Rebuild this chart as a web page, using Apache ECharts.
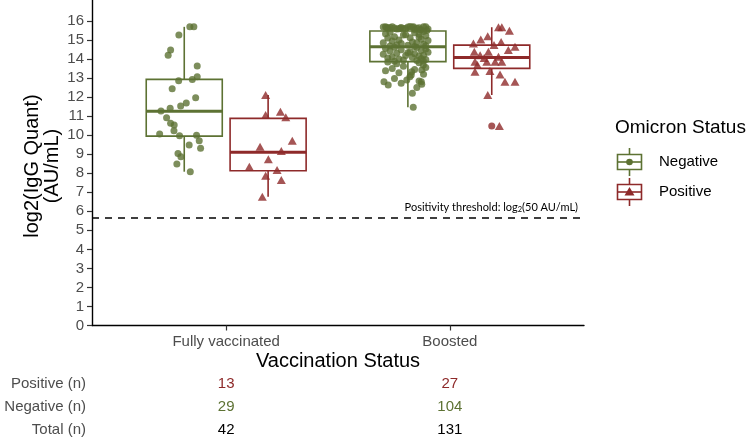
<!DOCTYPE html>
<html>
<head>
<meta charset="utf-8">
<script src="https://cdn.jsdelivr.net/npm/echarts@6/dist/echarts.min.js"></script>
<style>html,body{margin:0;padding:0;background:#fff}#c{width:750px;height:439px}</style>
</head>
<body>
<div id="c"></div>
<script>
// ---------- data ----------
const categories = ['Fully vaccinated', 'Boosted'];
const yTicks = [0,1,2,3,4,5,6,7,8,9,10,11,12,13,14,15,16];
const threshold = Math.log2(50);

// box stats [min, Q1, median, Q3, max] per category
const negBox = [[8.08, 9.95, 11.25, 12.93, 15.69], [11.46, 13.86, 14.64, 15.47, 15.71]];
const posBox = [[6.77, 8.13, 9.10, 10.88, 12.11], [12.11, 13.51, 14.08, 14.73, 15.67]];
const posOutliers = [[1, 10.48]]; // [category index, value]

// jittered points: values and horizontal jitter (category units)
const fvNegY = [15.69,15.69,15.26,14.47,14.20,13.63,13.07,12.93,12.86,12.44,11.96,11.69,11.53,11.41,11.27,10.92,10.62,10.53,10.23,10.06,9.97,10.00,9.71,9.48,9.31,9.04,8.87,8.48,8.08];
const fvNegJ = [0.025,0.043,-0.024,-0.061,-0.072,0.058,0.058,0.036,-0.025,-0.054,0.051,0.009,-0.016,-0.063,-0.104,-0.079,-0.061,-0.045,-0.046,-0.110,-0.021,0.055,0.067,0.022,0.073,-0.028,-0.015,-0.033,0.027];
const fvPosY = [12.11,11.23,11.06,10.94,9.71,9.39,9.17,8.73,8.34,8.17,7.87,7.64,6.77];
const fvPosJ = [-0.011,0.055,-0.011,0.079,0.108,-0.036,0.059,0.001,-0.084,0.040,-0.011,0.059,-0.026];
const bNegY = [
 15.68,15.62,15.70,15.58,15.66,15.60,15.71,15.55,15.64,15.69,15.57,15.70,15.63,15.60,15.67,15.52,15.70,15.65,15.59,15.68,15.61,15.66,15.54,15.69,15.62,15.50,
 15.45,15.40,15.38,15.33,15.30,15.26,15.22,15.17,15.12,15.10,15.04,15.00,14.97,14.94,14.90,14.86,14.85,14.81,14.78,14.74,14.72,14.70,14.68,14.66,15.28,15.15,
 14.62,14.60,14.55,14.52,14.48,14.45,14.42,14.38,14.35,14.30,14.28,14.25,14.20,14.18,14.15,14.10,14.08,14.05,14.02,14.00,13.97,13.95,13.92,13.90,13.88,14.33,
 13.84,13.80,13.75,13.68,13.62,13.55,13.50,13.45,13.42,13.38,13.33,13.28,13.20,13.16,13.07,12.98,12.90,12.85,12.80,12.80,12.72,12.67,12.63,12.50,12.20,11.46];
const bNegJ = [
 -0.11,-0.09,-0.07,-0.05,-0.03,-0.01,0.01,0.03,0.05,0.07,0.09,-0.10,-0.06,-0.02,0.02,0.06,0.08,-0.08,-0.04,0.00,0.04,-0.095,0.055,0.025,-0.035,0.085,
 0.07,-0.08,0.03,-0.10,0.05,-0.02,0.08,-0.06,0.01,-0.09,0.06,-0.04,0.09,-0.07,0.02,-0.11,0.04,-0.03,0.07,-0.05,0.00,0.08,-0.08,0.03,-0.01,0.05,
 -0.06,0.04,-0.10,0.08,-0.03,0.06,-0.08,0.01,0.09,-0.05,0.03,-0.11,0.07,-0.01,0.05,-0.07,0.02,-0.09,0.06,-0.04,0.08,-0.02,0.04,0.069,-0.06,0.00,
 -0.09,0.05,-0.05,0.069,-0.02,0.08,-0.07,0.03,0.062,-0.10,0.017,-0.04,0.07,0.015,0.009,-0.06,-0.005,0.05,-0.107,0.06,-0.03,0.062,-0.088,0.04,0.02,0.024];
const bPosY = [15.67,15.67,15.48,15.20,15.03,14.82,14.73,14.89,14.64,14.47,14.38,14.38,14.20,14.12,13.86,13.86,13.86,13.86,13.68,13.33,13.37,13.19,12.80,12.80,12.11,10.48,14.05];
const bPosJ = [0.030,0.045,0.079,-0.018,-0.049,-0.082,0.010,0.042,0.104,0.074,-0.078,-0.015,-0.052,0.030,-0.075,-0.022,0.015,0.045,-0.064,-0.075,-0.008,0.037,0.059,0.104,-0.018,0.034,-0.034];

const counts = { pos: [13, 27], neg: [29, 104], total: [42, 131] };

// ---------- style ----------
const GREEN = '#5D7233';
const RED = '#8E2A2A';
const GREY = '#4D4D4D';
const FONT = 'Liberation Sans';
const dodge = 0.1875, boxW = 0.34;

function pts(Y, J, cat, off) { return Y.map((y, i) => [cat + 1 + off + J[i], y]); }
function boxData(B, off) { return B.map((b, i) => [i + 1 + off].concat(b)); }

function boxRender(color) {
  return function (params, api) {
    const x = api.value(0);
    const mn = api.value(1), q1 = api.value(2), md = api.value(3), q3 = api.value(4), mx = api.value(5);
    const hw = boxW / 2;
    const tl = api.coord([x - hw, q3]), br = api.coord([x + hw, q1]);
    const t = api.coord([x, mx]), b = api.coord([x, mn]);
    const c3 = api.coord([x, q3]), c1 = api.coord([x, q1]);
    const ml = api.coord([x - hw, md]), mr = api.coord([x + hw, md]);
    return { type: 'group', children: [
      { type: 'line', shape: { x1: t[0], y1: t[1], x2: c3[0], y2: c3[1] }, style: { stroke: color, lineWidth: 1.6 } },
      { type: 'line', shape: { x1: c1[0], y1: c1[1], x2: b[0], y2: b[1] }, style: { stroke: color, lineWidth: 1.6 } },
      { type: 'rect', shape: { x: tl[0], y: tl[1], width: br[0] - tl[0], height: br[1] - tl[1] }, style: { fill: '#fff', stroke: color, lineWidth: 1.6 } },
      { type: 'line', shape: { x1: ml[0], y1: ml[1], x2: mr[0], y2: mr[1] }, style: { stroke: color, lineWidth: 3 } }
    ] };
  };
}

const chart = echarts.init(document.getElementById('c'), null, { renderer: 'canvas' });
const option = {
  animation: false,
  textStyle: { fontFamily: FONT },
  grid: { left: 92, right: 166, top: 0, bottom: 113.5, containLabel: false },
  xAxis: {
    type: 'value', min: 0.4, max: 2.6,
    axisLine: { show: true, lineStyle: { color: '#000', width: 1.4 } },
    axisTick: { show: true, length: 5, customValues: [1, 2], lineStyle: { color: '#333', width: 1.2 } },
    axisLabel: { customValues: [1, 2], formatter: v => categories[Math.round(v) - 1], color: GREY, fontSize: 15, margin: 9, fontFamily: FONT },
    splitLine: { show: false }
  },
  yAxis: {
    type: 'value', min: 0, max: 17.1,
    axisLine: { show: true, lineStyle: { color: '#000', width: 1.4 } },
    axisTick: { show: true, length: 5, customValues: yTicks, lineStyle: { color: '#333', width: 1.2 } },
    axisLabel: { customValues: yTicks, color: GREY, fontSize: 15, margin: 8, fontFamily: FONT },
    splitLine: { show: false }
  },
  series: [
    { type: 'custom', name: 'Negative', renderItem: boxRender(GREEN), data: boxData(negBox, -dodge), encode: { x: 0, y: [1, 2, 3, 4, 5] }, z: 2,
      markLine: { silent: true, symbol: 'none', label: { show: false },
        lineStyle: { color: '#000', type: [7, 6], width: 1.5 }, data: [{ yAxis: threshold }] } },
    { type: 'custom', name: 'Positive', renderItem: boxRender(RED), data: boxData(posBox, dodge), encode: { x: 0, y: [1, 2, 3, 4, 5] }, z: 2 },
    { type: 'scatter', name: 'outlier', data: posOutliers.map(o => [o[0] + 1 + dodge, o[1]]), symbol: 'circle', symbolSize: 7, itemStyle: { color: RED }, z: 3 },
    { type: 'scatter', name: 'Negative', data: pts(fvNegY, fvNegJ, 0, -dodge).concat(pts(bNegY, bNegJ, 1, -dodge)), symbol: 'circle', symbolSize: 7, itemStyle: { color: GREEN }, z: 4 },
    { type: 'scatter', name: 'Positive', data: pts(fvPosY, fvPosJ, 0, dodge).concat(pts(bPosY, bPosJ, 1, dodge)), symbol: 'triangle', symbolSize: [9, 8], itemStyle: { color: RED }, z: 4 }
  ]
};
chart.setOption(option);

// ---------- annotations ----------
const xc = categories.map((c, i) => chart.convertToPixel({ xAxisIndex: 0 }, i + 1));
const yThr = chart.convertToPixel({ yAxisIndex: 0 }, threshold);
const xEnd = chart.convertToPixel({ xAxisIndex: 0 }, 2.6);

function legendKey(cx, cy, color, shape) {
  const children = [
    { type: 'line', shape: { x1: cx, y1: cy - 14, x2: cx, y2: cy + 14 }, style: { stroke: color, lineWidth: 1.6 } },
    { type: 'rect', shape: { x: cx - 12, y: cy - 7.5, width: 24, height: 15 }, style: { fill: '#fff', stroke: color, lineWidth: 1.6 } },
    { type: 'line', shape: { x1: cx - 12, y1: cy, x2: cx + 12, y2: cy }, style: { stroke: color, lineWidth: 1.6 } }
  ];
  if (shape === 'circle') children.push({ type: 'circle', shape: { cx: cx, cy: cy, r: 3.3 }, style: { fill: color } });
  else children.push({ type: 'polygon', shape: { points: [[cx, cy - 5], [cx + 5, cy + 3.5], [cx - 5, cy + 3.5]] }, style: { fill: color } });
  return { type: 'group', children: children };
}

const rowY = [384, 407, 430];
const rowLabels = ['Positive (n)', 'Negative (n)', 'Total (n)'];
const rowVals = [counts.pos, counts.neg, counts.total];
const rowCols = [RED, GREEN, '#000'];
const tableEls = [];
rowLabels.forEach((lab, r) => {
  tableEls.push({ type: 'text', x: 86, y: rowY[r], style: { text: lab, fill: GREY, font: '15px "Liberation Sans"', textAlign: 'right', textVerticalAlign: 'middle' } });
  rowVals[r].forEach((v, i) => {
    tableEls.push({ type: 'text', x: xc[i], y: rowY[r], style: { text: String(v), fill: rowCols[r], font: '15px "Liberation Sans"', textAlign: 'center', textVerticalAlign: 'middle' } });
  });
});

chart.setOption({
  graphic: [
    { type: 'text', x: xEnd - 6, y: yThr - 11, style: {
        text: '{a|Positivity threshold: log}{s|2}{a|(50 AU/mL)}', textAlign: 'right', textVerticalAlign: 'middle',
        rich: { a: { fontFamily: 'Lato', fontSize: 11, fill: '#000', lineHeight: 14, verticalAlign: 'middle' },
                s: { fontFamily: 'Lato', fontSize: 7.5, fill: '#000', lineHeight: 8, verticalAlign: 'bottom' } } } },
    { type: 'text', x: 42, y: 166, rotation: Math.PI / 2, style: { text: 'log2(IgG Quant)\n(AU/mL)', fill: '#000', font: '20px "Liberation Sans"', textAlign: 'center', textVerticalAlign: 'middle', lineHeight: 20 } },
    { type: 'text', x: (xc[0] + xc[1]) / 2 + 0, y: 361, style: { text: 'Vaccination Status', fill: '#000', font: '20px "Liberation Sans"', textAlign: 'center', textVerticalAlign: 'middle' } },
    { type: 'text', x: 615, y: 128, style: { text: 'Omicron Status', fill: '#000', font: '19px "Liberation Sans"', textAlign: 'left', textVerticalAlign: 'middle' } },
    legendKey(629.5, 162, GREEN, 'circle'),
    legendKey(629.5, 192, RED, 'triangle'),
    { type: 'text', x: 659, y: 162, style: { text: 'Negative', fill: '#000', font: '15px "Liberation Sans"', textAlign: 'left', textVerticalAlign: 'middle' } },
    { type: 'text', x: 659, y: 192, style: { text: 'Positive', fill: '#000', font: '15px "Liberation Sans"', textAlign: 'left', textVerticalAlign: 'middle' } }
  ].concat(tableEls)
});
</script>
</body>
</html>
